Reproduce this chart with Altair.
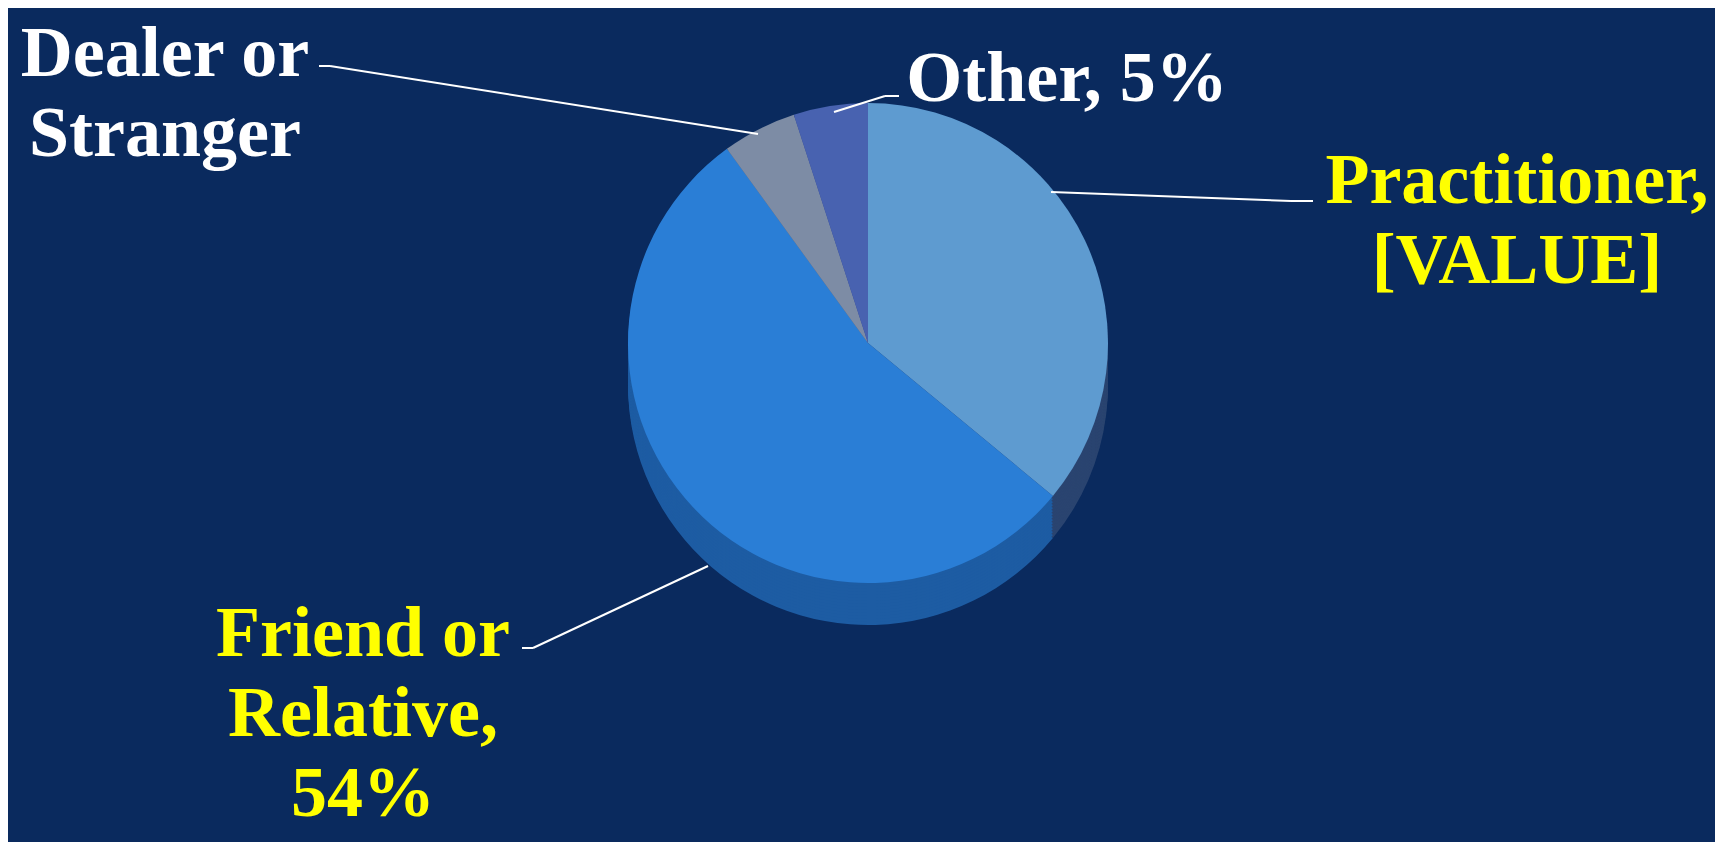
import altair as alt
import pandas as pd

# ---- data ----
categories = ["Practitioner", "Friend or Relative", "Dealer or Stranger", "Other"]
shares = [36, 54, 5, 5]
slice_order = [1, 2, 3, 4]

label_practitioner = ["Practitioner,", "[VALUE]"]
label_friend = ["Friend or", "Relative,", "54%"]
label_dealer = ["Dealer or", "Stranger"]
label_other = ["Other, 5%"]

# ---- styles ----
BG = "#0A2A5E"
top_colors = ["#5E9BD0", "#2A7ED6", "#7D8CA5", "#4862B0"]
side_colors = ["#2A4470", "#1D5CA3", "#56637D", "#34488A"]
FONT = "Liberation Serif"
FS = 72
LH = 80

W, H = 1707, 834
CX, CY, R, DEPTH = 860, 335, 240, 42

df = pd.DataFrame({"category": categories, "share": shares, "order": slice_order})
base = alt.Chart(df)


def pie_layer(colors, dy):
    return base.mark_arc(radius=R, stroke=None).encode(
        theta=alt.Theta("share:Q", stack=True),
        order=alt.Order("order:Q"),
        color=alt.Color("category:N", scale=alt.Scale(domain=categories, range=colors), legend=None),
        x=alt.value(CX),
        y=alt.value(CY + dy),
    )


side_layers = [pie_layer(side_colors, d) for d in range(DEPTH, 0, -3)]
top_layer = pie_layer(top_colors, 0)

one = alt.Chart(pd.DataFrame({"a": [0]}))


def seg(x1, y1, x2, y2):
    return one.mark_rule(color="white", strokeWidth=2).encode(
        x=alt.value(x1), y=alt.value(y1), x2=alt.value(x2), y2=alt.value(y2)
    )


def label(lines, x, y, color):
    return one.mark_text(
        text=lines, font=FONT, fontSize=FS, fontWeight="bold", color=color,
        align="center", baseline="alphabetic", lineHeight=LH,
    ).encode(x=alt.value(x), y=alt.value(y))


leaders = [
    seg(311, 58, 322, 58), seg(322, 58, 750, 126),
    seg(891, 88, 877, 88), seg(877, 88, 826, 104),
    seg(1305, 193, 1283, 193), seg(1283, 193, 1043, 184),
    seg(514, 640, 525, 640), seg(525, 640, 700, 558),
]

labels = [
    label(label_dealer, 157, 68, "white"),
    label(label_other, 1059, 93, "white"),
    label(label_practitioner, 1509, 195, "#FFFF00"),
    label(label_friend, 355, 648, "#FFFF00"),
]

chart = alt.layer(*side_layers, top_layer, *leaders, *labels).resolve_scale(
    color="independent"
).properties(
    width=W, height=H, padding=0, autosize=alt.AutoSizeParams(type="none"), background=BG
).configure_view(stroke=None)

chart.save("out.html", embed_options={"renderer": "svg", "actions": False})
